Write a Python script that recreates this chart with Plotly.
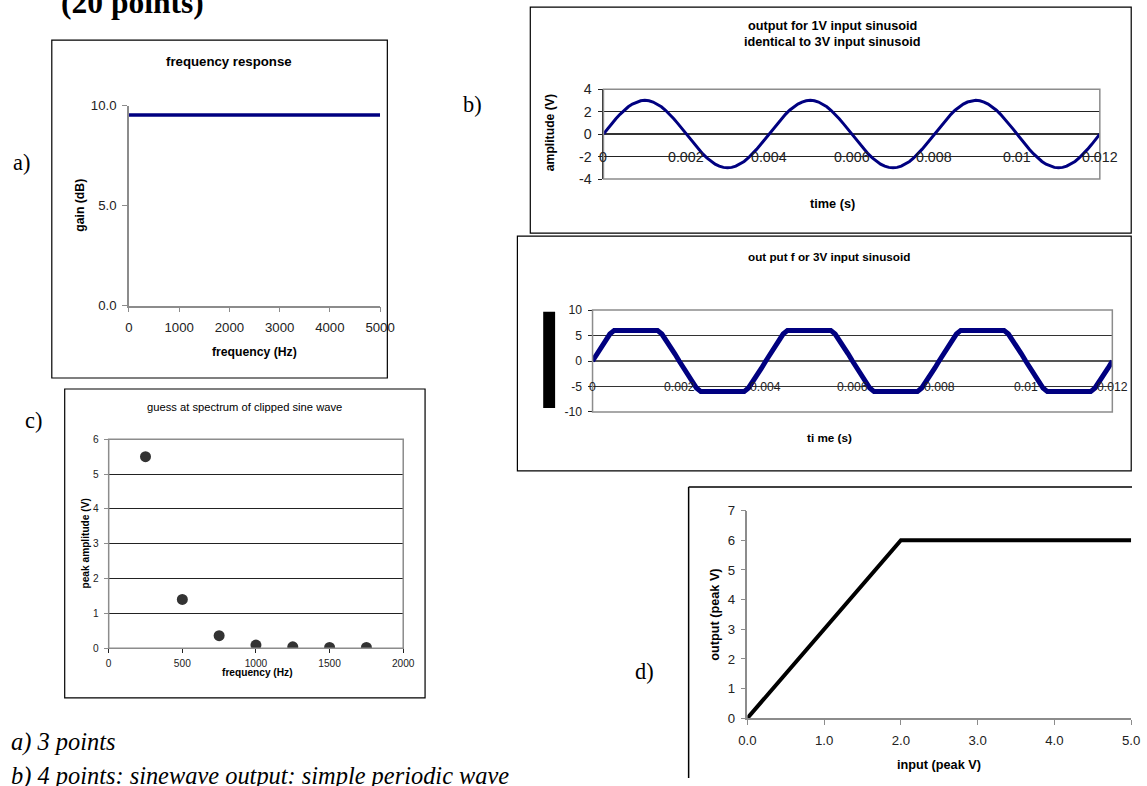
import urllib.parse
import plotly.graph_objects as go

W, H = 1147, 786

# ---------------- data ----------------
# a) frequency response
freq_a_hz = [0, 1000, 2000, 3000, 4000, 5000]
gain_db = [9.54, 9.54, 9.54, 9.54, 9.54, 9.54]
gain_ticks = [0, 5, 10]
gain_tick_labels = ["0.0", "5.0", "10.0"]

# b) output waveforms, sampled every 0.1 ms
sample_step_s = 0.0001
out_1v = [0, 0.47, 0.93, 1.36, 1.76, 2.12, 2.43, 2.67, 2.85, 2.96, 3.0, 2.96, 2.85, 2.67, 2.43, 2.12, 1.76, 1.36, 0.93, 0.47,
          0, -0.47, -0.93, -1.36, -1.76, -2.12, -2.43, -2.67, -2.85, -2.96, -3.0, -2.96, -2.85, -2.67, -2.43, -2.12, -1.76, -1.36, -0.93, -0.47,
          0, 0.47, 0.93, 1.36, 1.76, 2.12, 2.43, 2.67, 2.85, 2.96, 3.0, 2.96, 2.85, 2.67, 2.43, 2.12, 1.76, 1.36, 0.93, 0.47,
          0, -0.47, -0.93, -1.36, -1.76, -2.12, -2.43, -2.67, -2.85, -2.96, -3.0, -2.96, -2.85, -2.67, -2.43, -2.12, -1.76, -1.36, -0.93, -0.47,
          0, 0.47, 0.93, 1.36, 1.76, 2.12, 2.43, 2.67, 2.85, 2.96, 3.0, 2.96, 2.85, 2.67, 2.43, 2.12, 1.76, 1.36, 0.93, 0.47,
          0, -0.47, -0.93, -1.36, -1.76, -2.12, -2.43, -2.67, -2.85, -2.96, -3.0, -2.96, -2.85, -2.67, -2.43, -2.12, -1.76, -1.36, -0.93, -0.47,
          0]
out_3v = [0, 1.41, 2.78, 4.09, 5.29, 6, 6, 6, 6, 6, 6, 6, 6, 6, 6, 6, 5.29, 4.09, 2.78, 1.41,
          0, -1.41, -2.78, -4.09, -5.29, -6, -6, -6, -6, -6, -6, -6, -6, -6, -6, -6, -5.29, -4.09, -2.78, -1.41,
          0, 1.41, 2.78, 4.09, 5.29, 6, 6, 6, 6, 6, 6, 6, 6, 6, 6, 6, 5.29, 4.09, 2.78, 1.41,
          0, -1.41, -2.78, -4.09, -5.29, -6, -6, -6, -6, -6, -6, -6, -6, -6, -6, -6, -5.29, -4.09, -2.78, -1.41,
          0, 1.41, 2.78, 4.09, 5.29, 6, 6, 6, 6, 6, 6, 6, 6, 6, 6, 6, 5.29, 4.09, 2.78, 1.41,
          0, -1.41, -2.78, -4.09, -5.29, -6, -6, -6, -6, -6, -6, -6, -6, -6, -6, -6, -5.29, -4.09, -2.78, -1.41,
          0]
time_s = [round(i * sample_step_s, 4) for i in range(len(out_1v))]
time_ticks = [0, 0.002, 0.004, 0.006, 0.008, 0.01, 0.012]
time_tick_labels = ["0", "0.002", "0.004", "0.006", "0.008", "0.01", "0.012"]
amp1_ticks = [-4, -2, 0, 2, 4]
amp1_tick_labels = ["-4", "-2", "0", "2", "4"]
amp3_ticks = [-10, -5, 0, 5, 10]
amp3_tick_labels = ["-10", "-5", "0", "5", "10"]

# c) spectrum guess
spec_freq_hz = [250, 500, 750, 1000, 1250, 1500, 1750]
spec_amp_v = [5.5, 1.4, 0.36, 0.09, 0.04, 0.02, 0.02]

# d) transfer characteristic
input_peak_v = [0, 0.5, 1.0, 1.5, 2.0, 2.5, 3.0, 3.5, 4.0, 4.5, 5.0]
output_peak_v = [0, 1.5, 3.0, 4.5, 6.0, 6.0, 6.0, 6.0, 6.0, 6.0, 6.0]

# ---------------- layout helpers ----------------
# The photographed page shows an 8 px frame around the figure and is scaled to fit;
# layout positions below are given in target-picture pixels and mapped back to the figure.
SX, SY = W / (W + 16), H / (H + 16)
CX, CY = 8 * SX, 8 * SY
FS = 2 / (SX + SY)

def tx(x):
    return min(max((x - CX) / SX, 0), W)

def ty(y):
    return min(max((y - CY) / SY, -60), H + 60)

def px(x):
    return tx(x) / W

def py(y):
    return 1 - ty(y) / H

def dx(l, r):
    return [px(l), px(r)]

def dy(t, b):
    return [py(b), py(t)]

def f(s):
    return round(s * FS, 2)

SANS = "Liberation Sans, Arial, sans-serif"
SERIF = "Liberation Serif, Times New Roman, serif"
NAVY = "#000080"
GRAY = "#8c8c8c"

fig = go.Figure()

fig.add_trace(go.Scatter(x=freq_a_hz, y=gain_db, mode="lines", line=dict(color=NAVY, width=3.5),
                         xaxis="x", yaxis="y", showlegend=False))
fig.add_trace(go.Scatter(x=time_s, y=out_1v, mode="lines", line=dict(color=NAVY, width=3),
                         xaxis="x2", yaxis="y2", showlegend=False))
fig.add_trace(go.Scatter(x=time_s, y=out_3v, mode="lines", line=dict(color=NAVY, width=5),
                         xaxis="x3", yaxis="y3", showlegend=False))
fig.add_trace(go.Scatter(x=spec_freq_hz, y=spec_amp_v, mode="markers",
                         marker=dict(color="#333333", size=11), xaxis="x4", yaxis="y4", showlegend=False))
fig.add_trace(go.Scatter(x=input_peak_v, y=output_peak_v, mode="lines", line=dict(color="black", width=4),
                         xaxis="x5", yaxis="y5", showlegend=False))

tickfont = lambda s: dict(family=SANS, size=f(s), color="#222222")

layout = dict(
    width=W, height=H, margin=dict(l=0, r=0, t=0, b=0),
    paper_bgcolor="white", plot_bgcolor="rgba(0,0,0,0)", showlegend=False,
    # a)
    xaxis=dict(domain=dx(128.7, 381.7), range=[0, 5000], anchor="y", tickvals=freq_a_hz,
               showgrid=False, zeroline=False, showline=True, linecolor=GRAY, linewidth=1.5,
               ticks="outside", ticklen=5, tickcolor=GRAY, tickfont=tickfont(13), ticklabelstandoff=4),
    yaxis=dict(domain=dy(105.7, 305.7), range=[0, 10], anchor="x", tickvals=gain_ticks,
               ticktext=gain_tick_labels, showgrid=False, zeroline=False, showline=True,
               linecolor=GRAY, linewidth=1.5, ticks="outside", ticklen=5, tickcolor=GRAY,
               tickfont=tickfont(13), ticklabelstandoff=3),
    # b top
    xaxis2=dict(domain=dx(606.7, 1106.7), range=[0, 0.012], anchor="y2", showticklabels=False,
                showgrid=False, zeroline=False, showline=False, ticks=""),
    yaxis2=dict(domain=dy(89, 179), range=[-4, 4], anchor="x2", tickvals=amp1_ticks,
                ticktext=amp1_tick_labels, showgrid=True,
                gridcolor="#222222", gridwidth=1, zeroline=True, zerolinecolor="#333333",
                showline=True, linecolor="#222222", ticks="outside", ticklen=4, tickcolor="#222222",
                tickfont=tickfont(14), ticklabelstandoff=4),
    # b bottom
    xaxis3=dict(domain=dx(595.7, 1119.3), range=[0, 0.012], anchor="y3", showticklabels=False,
                showgrid=False, zeroline=False, showline=False, ticks=""),
    yaxis3=dict(domain=dy(310, 412), range=[-10, 10], anchor="x3", tickvals=amp3_ticks,
                ticktext=amp3_tick_labels, showgrid=True,
                gridcolor="#333333", gridwidth=1, zeroline=True, zerolinecolor="#555555",
                showline=True, linecolor="#222222", ticks="outside", ticklen=4, tickcolor="#222222",
                tickfont=tickfont(12), ticklabelstandoff=3),
    # c
    xaxis4=dict(domain=dx(108.3, 405), range=[0, 2000], anchor="y4", dtick=500, showgrid=False,
                zeroline=False, showline=True, linecolor="#222222", ticks="outside", ticklen=4,
                tickcolor="#222222", tickfont=tickfont(10), ticklabelstandoff=2),
    yaxis4=dict(domain=dy(439.3, 648.3), range=[0, 6], anchor="x4", dtick=1, showgrid=True,
                gridcolor="#222222", gridwidth=1, zeroline=False, showline=True, linecolor=GRAY,
                ticks="outside", ticklen=4, tickcolor=GRAY, tickfont=tickfont(10), ticklabelstandoff=3),
    # d
    xaxis5=dict(domain=dx(751.7, 1138.3), range=[0, 5], anchor="y5", dtick=1, tickformat=".1f",
                showgrid=False, zeroline=False, showline=True, linecolor=GRAY, linewidth=1.5,
                ticks="outside", ticklen=5, tickcolor=GRAY, tickfont=tickfont(13), ticklabelstandoff=4),
    yaxis5=dict(domain=dy(510.7, 718.3), range=[0, 7], anchor="x5", dtick=1, showgrid=False,
                zeroline=False, showline=True, linecolor=GRAY, linewidth=1.5, ticks="outside",
                ticklen=5, tickcolor=GRAY, tickfont=tickfont(13), ticklabelstandoff=3),
)

EDGE_X = (W - 0.8) / W

shapes = []
def box(l, t, r, b, color="black", width=1.2):
    shapes.append(dict(type="rect", xref="paper", yref="paper", x0=px(l), x1=min(px(r), EDGE_X),
                       y0=py(b), y1=py(t), line=dict(color=color, width=width),
                       fillcolor="rgba(0,0,0,0)", layer="below"))

def seg(x0, y0, x1, y1, color="black", width=1.5):
    shapes.append(dict(type="line", xref="paper", yref="paper", x0=px(x0), x1=min(px(x1), 1),
                       y0=max(py(y0), 0), y1=max(py(y1), 0), line=dict(color=color, width=width), layer="below"))

# chart frames
box(51, 40, 389, 378)
box(533, 7, 1141, 233)
box(520, 236, 1147, 471)
box(64, 389, 427, 698)
seg(692.5, 487, 1147, 487)
seg(692.5, 487, 692.5, 800)
# plot-area borders (gray)
for xa in ["x2", "x3", "x4"]:
    shapes.append(dict(type="rect", xref=f"{xa} domain", yref=f"y{xa[1:]} domain", x0=0, x1=1, y0=0, y1=1,
                       line=dict(color=GRAY, width=1.5), layer="above"))
# obscured y-axis title block in b bottom
shapes.append(dict(type="rect", xref="paper", yref="paper", x0=px(546), x1=px(558), y0=py(408), y1=py(311.7),
                   fillcolor="black", line=dict(width=0)))

ann = []
def text(x, y, s, size, family=SANS, bold=False, italic=False, angle=0, xanchor="center", yanchor="middle"):
    if bold:
        s = f"<b>{s}</b>"
    if italic:
        s = f"<i>{s}</i>"
    ann.append(dict(x=px(x), y=py(y), xref="paper", yref="paper", text=s, showarrow=False,
                    font=dict(family=family, size=f(size), color="black"), textangle=angle,
                    xanchor=xanchor, yanchor=yanchor))

# header and panel letters
text(132, 2, "(20 points)", 31, family=SERIF, bold=True)
text(10, 162, "a)", 22, family=SERIF, xanchor="left")
text(463, 104, "b)", 22, family=SERIF, xanchor="left")
text(22, 421, "c)", 22, family=SERIF, xanchor="left")
text(636, 672, "d)", 22, family=SERIF, xanchor="left")
text(8, 742, "a) 3 points", 24, family=SERIF, italic=True, xanchor="left")
text(8, 776, "b) 4 points: sinewave output: simple periodic wave", 24, family=SERIF, italic=True, xanchor="left")

# a)
text(230, 61, "frequency response", 13, bold=True)
text(79, 205, "gain (dB)", 12, bold=True, angle=-90)
text(255, 352, "frequency (Hz)", 12, bold=True)
# b top
text(837, 25, "output for 1V input sinusoid", 12.5, bold=True)
text(837, 41, "identical to 3V input sinusoid", 12.5, bold=True)
text(553, 133, "amplitude (V)", 12, bold=True, angle=-90)
text(837, 203, "time (s)", 12.5, bold=True)
# b bottom
text(834, 256, "out put f or 3V input sinusoid", 11.5, bold=True)
text(834, 438, "ti me (s)", 11.5, bold=True)
# c
text(245, 407, "guess at spectrum of clipped sine wave", 11)
text(85, 544, "peak amplitude (V)", 10, bold=True, angle=-90)
text(258, 673, "frequency (Hz)", 10, bold=True)
# d
text(945, 765, "input (peak V)", 12.5, bold=True)
text(719, 615, "output (peak V)", 12.5, bold=True, angle=-90)

# x tick labels of the waveform charts sit next to the zero axis (Excel style)
for v, lab in zip(time_ticks, time_tick_labels):
    ann.append(dict(x=v, y=-2, xref="x2", yref="y2", text=lab, showarrow=False,
                    font=dict(family=SANS, size=f(14), color="#222222"), xanchor="center", yanchor="middle"))
    ann.append(dict(x=v, y=-5, xref="x3", yref="y3", text=lab, showarrow=False,
                    font=dict(family=SANS, size=f(12), color="#222222"), xanchor="center", yanchor="middle"))

layout["shapes"] = shapes
layout["annotations"] = ann
fig.update_layout(**layout)

# keep the page exactly the size of the figure: no body margin, nothing drawn past its edges
css = ("html,body{margin:0;padding:0;overflow:hidden}"
       ".plotly-graph-div,.svg-container{overflow:hidden}"
       ".js-plotly-plot .plotly .main-svg{overflow:hidden}")
js = "document.head.insertAdjacentHTML('beforeend','<style>" + css + "</style>');"
reset_js = "data:text/javascript," + urllib.parse.quote(js) + "//.js"
fig.write_html("out.html", config={"displayModeBar": False}, include_mathjax=reset_js,
               post_script="document.documentElement.style.margin='0px';document.body.style.margin='0px';document.body.style.overflow='hidden';")
